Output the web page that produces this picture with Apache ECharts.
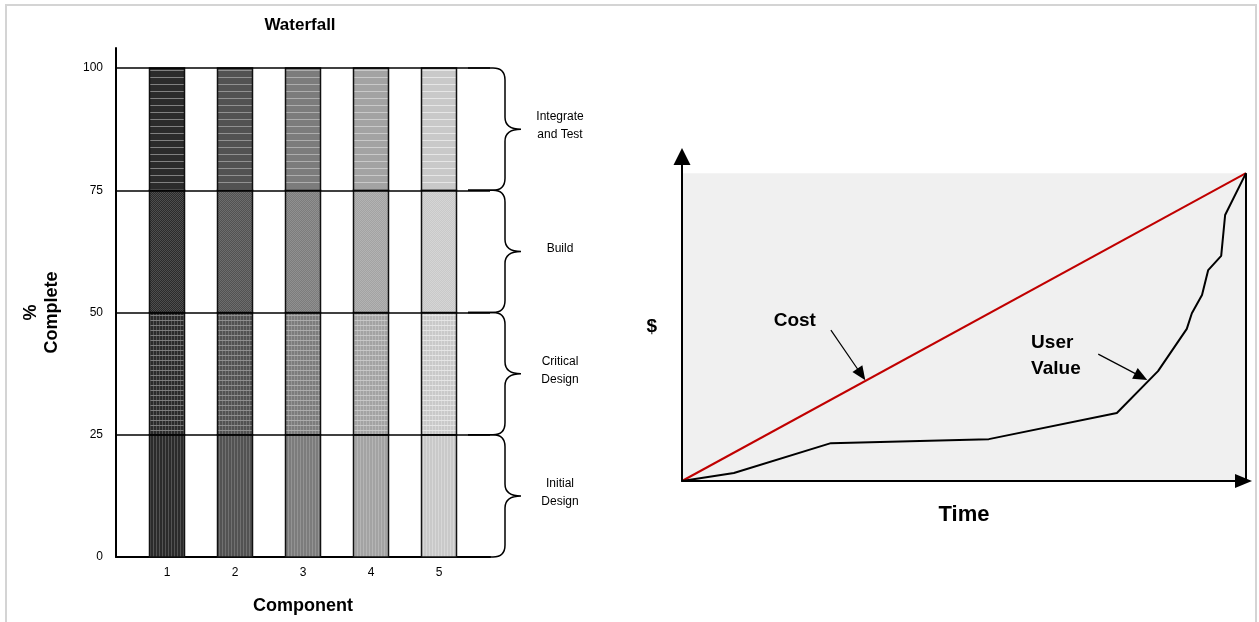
<!DOCTYPE html>
<html>
<head>
<meta charset="utf-8">
<script src="https://cdn.jsdelivr.net/npm/echarts@6/dist/echarts.min.js"></script>
<style>
  html, body { margin: 0; padding: 0; background: #fff; }
  #chart { width: 1259px; height: 622px; }
</style>
</head>
<body>
<div id="chart"></div>
<script>
// ---- Waterfall: every component passes through the same four phases ----
const components = ['1', '2', '3', '4', '5'];
const phases = ['Initial Design', 'Critical Design', 'Build', 'Integrate and Test'];
const phaseLabels = ['Initial\nDesign', 'Critical\nDesign', 'Build', 'Integrate\nand Test'];
const phaseShare = [25, 25, 25, 25];            // % complete contributed by each phase
const percentTicks = [0, 25, 50, 75, 100];

// ---- Cost vs. user value over time (percent of final amount) ----
const timePoints = [0, 9.2, 26.4, 54.4, 77.1, 84.4, 89.5, 90.4, 92.2, 93.3, 95.6, 96.3, 100];
const userValue  = [0, 2.6, 12.3, 13.6, 22.1, 35.7, 49.4, 54.5, 60.4, 68.5, 73.1, 86.4, 100];
const costTime   = [0, 100];
const costValue  = [0, 100];

// call-outs: label anchor and arrow [from, to] in (time, $) units
const costLabelAt = [20.0, 51.9];
const costArrow   = [[26.4, 49.0], [31.8, 34.6]];
const userLabelAt = [61.9, 40.6];
const userArrow   = [[73.8, 41.2], [81.4, 33.9]];

const FONT = '"Liberation Sans", Arial, Helvetica, sans-serif';

// grey tones per component and a lighter tone for the hatch lines
const shadeBase  = ['#2b2b2b', '#525252', '#7c7c7c', '#a3a3a3', '#c9c9c9'];
const shadeLight = ['#858585', '#959595', '#b0b0b0', '#cbcbcb', '#e8e8e8'];

// hatch textures: 0 vertical, 1 grid, 2 checker, 3 horizontal
function makePattern(base, light, kind) {
  const size = [[3, 1], [3, 5], [2, 2], [1, 7]][kind];
  const c = document.createElement('canvas');
  c.width = size[0]; c.height = size[1];
  const g = c.getContext('2d');
  g.fillStyle = base;
  g.fillRect(0, 0, c.width, c.height);
  g.fillStyle = light;
  if (kind === 0) {
    g.globalAlpha = 0.45; g.fillRect(0, 0, 1, c.height);
  } else if (kind === 1) {
    g.globalAlpha = 0.45; g.fillRect(0, 0, 1, c.height);
    g.globalAlpha = 0.9; g.fillRect(0, 0, c.width, 1);
  } else if (kind === 2) {
    g.globalAlpha = 0.4; g.fillRect(0, 0, 1, 1); g.fillRect(1, 1, 1, 1);
  } else {
    g.globalAlpha = 0.95; g.fillRect(0, 0, 1, 1);
  }
  return { image: c, repeat: 'repeat' };
}

// cumulative phase boundaries
const phaseEnds = [];
phaseShare.reduce((acc, v) => { phaseEnds.push(acc + v); return acc + v; }, 0);

// one segment per (component, phase): [x, from %, to %, phase, component]
const segments = [];
components.forEach((c, i) => {
  phaseShare.forEach((v, p) => {
    segments.push([i + 1, phaseEnds[p] - v, phaseEnds[p], p, i]);
  });
});
const patterns = segments.map(s => makePattern(shadeBase[s[4]], shadeLight[s[4]], s[3]));

const BAR_W = 35;
const barSeries = {
  type: 'custom',
  name: 'Waterfall',
  xAxisIndex: 0,
  yAxisIndex: 0,
  silent: true,
  encode: { x: 0, y: [1, 2] },
  data: segments,
  renderItem(params, api) {
    const x = api.value(0);
    const pLo = api.coord([x, api.value(1)]);
    const pHi = api.coord([x, api.value(2)]);
    return {
      type: 'rect',
      shape: { x: pLo[0] - BAR_W / 2, y: pHi[1], width: BAR_W, height: pLo[1] - pHi[1] },
      style: { fill: patterns[params.dataIndex], stroke: '#111', lineWidth: 1.5 }
    };
  },
  markLine: {
    silent: true,
    symbol: ['none', 'none'],
    label: { show: false },
    lineStyle: { color: '#000', width: 1.5, type: 'solid' },
    data: phaseEnds.map(v => ({ yAxis: v }))
  }
};

// curly braces naming each phase band, to the right of the bars
const braceSeries = {
  type: 'custom',
  xAxisIndex: 0,
  yAxisIndex: 0,
  clip: false,
  silent: true,
  encode: { y: [0, 1] },
  data: phaseShare.map((v, k) => [phaseEnds[k] - v, phaseEnds[k]]),
  renderItem(params, api) {
    const cs = params.coordSys;
    const xr = cs.x + cs.width;
    const yB = api.coord([1, api.value(0)])[1];
    const yT = api.coord([1, api.value(1)])[1];
    const yM = (yT + yB) / 2;
    const xa = xr - 22, xc = xr + 3, xv = xr + 15, xt = xr + 31, r = 12;
    const d = `M${xa},${yT} L${xc},${yT} Q${xv},${yT} ${xv},${yT + r} L${xv},${yM - r} ` +
              `Q${xv},${yM} ${xt},${yM} Q${xv},${yM} ${xv},${yM + r} L${xv},${yB - r} ` +
              `Q${xv},${yB} ${xc},${yB} L${xa},${yB}`;
    return {
      type: 'group',
      children: [
        { type: 'path', shape: { pathData: d },
          style: { fill: 'none', stroke: '#000', lineWidth: 1.5 } },
        { type: 'text', x: xr + 70, y: yM - 3,
          style: { text: phaseLabels[params.dataIndex], align: 'center', verticalAlign: 'middle',
                   fontSize: 12, fontFamily: FONT, fill: '#000', lineHeight: 18 } }
      ]
    };
  }
};

const boldLabel = { fontSize: 19, fontWeight: 'bold', fontFamily: FONT, color: '#000' };
const arrowStyle = {
  silent: true,
  symbol: ['none', 'triangle'],
  symbolSize: [12, 14],
  label: { show: false },
  lineStyle: { color: '#000', width: 1.2, type: 'solid' }
};

const option = {
  animation: false,
  textStyle: { fontFamily: FONT },
  title: [{
    text: 'Waterfall',
    left: 295, top: 12, textAlign: 'center',
    textStyle: { fontSize: 17, fontWeight: 'bold', fontFamily: FONT, color: '#000' }
  }],
  graphic: [{
    type: 'rect', silent: true, z: -10,
    shape: { x: 6, y: 5, width: 1250, height: 700 },
    style: { fill: 'none', stroke: '#d4d4d4', lineWidth: 2 }
  }],
  grid: [
    { left: 116, right: 769, top: 48, bottom: 65 },
    { left: 682, right: 13, top: 156.5, bottom: 141 }
  ],
  xAxis: [
    {
      type: 'value', gridIndex: 0, min: 0.25, max: 5.75,
      axisLine: { lineStyle: { color: '#000', width: 2 } },
      axisTick: { show: false },
      splitLine: { show: false },
      axisLabel: {
        customValues: components.map((c, i) => i + 1),
        formatter: v => components[Math.round(v) - 1] || '',
        margin: 10, fontSize: 12, color: '#000'
      },
      name: 'Component', nameLocation: 'middle', nameGap: 40,
      nameTextStyle: { fontSize: 18, fontWeight: 'bold', color: '#000' }
    },
    {
      type: 'value', gridIndex: 1, min: 0, max: 100, z: 5,
      axisLine: { lineStyle: { color: '#000', width: 2 },
                  symbol: ['none', 'triangle'], symbolSize: [14, 17], symbolOffset: [0, -2.5] },
      axisTick: { show: false }, axisLabel: { show: false }, splitLine: { show: false },
      name: 'Time', nameLocation: 'middle', nameGap: 23,
      nameTextStyle: { fontSize: 22, fontWeight: 'bold', color: '#000' }
    }
  ],
  yAxis: [
    {
      type: 'value', gridIndex: 0, min: 0, max: 104.1,
      axisLine: { show: true, lineStyle: { color: '#000', width: 2 } },
      axisTick: { show: false },
      splitLine: { show: false },
      axisLabel: { customValues: percentTicks, margin: 13, fontSize: 12, color: '#000' },
      name: '%\nComplete', nameLocation: 'middle', nameRotate: 90, nameGap: 53,
      nameTextStyle: { fontSize: 18, fontWeight: 'bold', color: '#000', lineHeight: 21,
                       padding: [0, 20, 0, 0] }
    },
    {
      type: 'value', gridIndex: 1, min: 0, max: 105.4, z: 5,
      axisLine: { show: true, lineStyle: { color: '#000', width: 2 },
                  symbol: ['none', 'triangle'], symbolSize: [17, 17] },
      axisTick: { show: false }, axisLabel: { show: false }, splitLine: { show: false },
      name: '$', nameLocation: 'middle', nameRotate: 0, nameGap: 25,
      nameTextStyle: { fontSize: 19, fontWeight: 'bold', color: '#000',
                       verticalAlign: 'top', lineHeight: 16 }
    }
  ],
  series: [
    barSeries,
    braceSeries,
    {
      type: 'line', name: 'Cost', xAxisIndex: 1, yAxisIndex: 1,
      data: costTime.map((t, i) => [t, costValue[i]]),
      symbol: 'none', clip: false, silent: true,
      lineStyle: { color: '#c00000', width: 2 },
      markArea: {
        silent: true,
        itemStyle: { color: '#f0f0f0' },
        data: [[{ coord: [0, 0] }, { coord: [100, 100] }]]
      },
      markLine: {
        silent: true,
        symbol: ['none', 'none'],
        label: { show: false },
        lineStyle: { color: '#000', width: 2, type: 'solid' },
        data: [[{ coord: [100, 0] }, { coord: [100, 100] }]]
      },
      markPoint: {
        silent: true,
        symbol: 'rect', symbolSize: 1, itemStyle: { color: 'rgba(0,0,0,0)' },
        label: { show: true, position: 'inside', formatter: 'Cost', ...boldLabel },
        data: [{ coord: costLabelAt }]
      }
    },
    {
      type: 'line', name: 'User Value', xAxisIndex: 1, yAxisIndex: 1,
      data: timePoints.map((t, i) => [t, userValue[i]]),
      symbol: 'none', clip: false, silent: true,
      lineStyle: { color: '#000', width: 2 },
      markLine: {
        ...arrowStyle,
        data: [
          [{ coord: costArrow[0] }, { coord: costArrow[1] }],
          [{ coord: userArrow[0] }, { coord: userArrow[1] }]
        ]
      },
      markPoint: {
        silent: true,
        symbol: 'rect', symbolSize: 1, itemStyle: { color: 'rgba(0,0,0,0)' },
        label: { show: true, position: 'inside', align: 'left', lineHeight: 26,
                 formatter: 'User\nValue', ...boldLabel },
        data: [{ coord: userLabelAt }]
      }
    }
  ]
};

const chart = echarts.init(document.getElementById('chart'), null, { renderer: 'canvas' });
chart.setOption(option);
</script>
</body>
</html>
